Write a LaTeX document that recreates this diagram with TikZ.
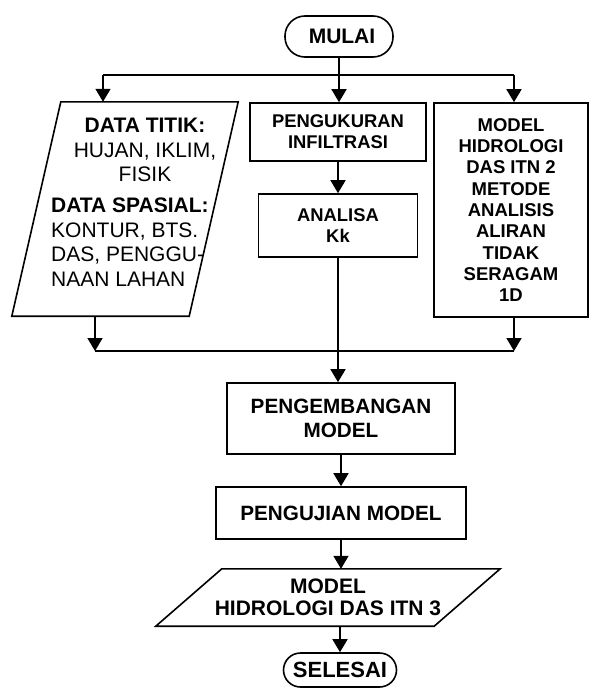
\documentclass[tikz,border=0pt]{standalone}
\usepackage{fontspec}
\setmainfont{Liberation Sans}
\usetikzlibrary{arrows.meta,calc}
\begin{document}
\begin{tikzpicture}[x=1pt,y=-1pt,
  box/.style={draw, line width=1.6pt, inner sep=0pt, align=center},
  ln/.style={line width=1.6pt},
  ar/.style={line width=1.6pt, -{Triangle[length=13pt,width=15pt]}},
  fa/.style={font=\fontsize{18.4}{21}\selectfont\bfseries},
  fb/.style={font=\fontsize{20.7}{24}\selectfont\bfseries},
  fr/.style={font=\fontsize{18.5}{21.3}\selectfont\bfseries},
  fl/.style={font=\fontsize{21}{24.5}\selectfont},
]
\useasboundingbox (0,0) rectangle (590,688);

% terminals and boxes
\node[box, rounded corners=20pt, minimum width=108pt, minimum height=41pt,
      font=\fontsize{21}{24}\selectfont\bfseries] (mulai) at (339,36.5) {\hspace*{6pt}MULAI};
\node[box, fa, minimum width=176pt, minimum height=58pt] (peng) at (338,132) {PENGUKURAN\\INFILTRASI};
\node[box, fa, minimum width=159pt, minimum height=63pt] (analisa) at (338,225.5) {ANALISA\\Kk};
\node[box, fr, minimum width=154pt, minimum height=214pt] (model) at (511,210)
  {MODEL\\HIDROLOGI\\DAS ITN 2\\METODE\\ANALISIS\\ALIRAN\\TIDAK\\SERAGAM\\1D};

% left data parallelogram
\node[inner sep=0pt, minimum width=226pt, minimum height=214pt] (dat) at (125,209) {};
\draw[ln] ($(dat.north west)+(49,0)$) -- (dat.north east) -- ($(dat.south east)+(-49,0)$) -- (dat.south west) -- cycle;
\node[fl, anchor=north, inner sep=0pt, align=center] (dtitik) at (145,118)
  {\textbf{DATA TITIK:}\\HUJAN, IKLIM,\\FISIK};
\node[fl, anchor=north west, inner sep=0pt, align=left] (dspas) at (51,198)
  {\textbf{DATA SPASIAL:}\\KONTUR, BTS.\\DAS, PENGGU-\\NAAN LAHAN};

\node[box, fb, minimum width=228pt, minimum height=71pt] (pengem) at (341,418.5) {PENGEMBANGAN\\MODEL};
\node[box, fb, minimum width=250pt, minimum height=52pt] (uji) at (341,513) {PENGUJIAN MODEL};

% output parallelogram
\node[inner sep=0pt, minimum width=344pt, minimum height=57pt, align=center,
      font=\fontsize{21}{21.5}\selectfont\bfseries] (out) at (328,597.5) {MODEL\\HIDROLOGI DAS ITN 3};
\draw[ln] ($(out.north west)+(66,0)$) -- (out.north east) -- ($(out.south east)+(-66,0)$) -- (out.south west) -- cycle;

\node[box, rounded corners=17pt, minimum width=113pt, minimum height=34pt,
      font=\fontsize{22}{24}\selectfont\bfseries] (selesai) at (340,670) {SELESAI};

% connectors
\coordinate (bl) at (103,75);
\coordinate (br) at (514,75);
\draw[ln] (bl) -- (br);
\draw[ar] (mulai.south) -- (mulai.south |- peng.north);
\draw[ar] (bl) -- (bl |- dat.north);
\draw[ar] (br) -- (br |- model.north);
\draw[ar] (peng.south) -- (peng.south |- analisa.north);

\coordinate (ml) at (95,351);
\coordinate (mr) at (514,351);
\draw[ln] (ml) -- (mr);
\draw[ar] (ml |- dat.south) -- (ml);
\draw[ar] (mr |- model.south) -- (mr);
\draw[ar] (analisa.south) -- (analisa.south |- pengem.north);
\draw[ar] (pengem.south) -- (pengem.south |- uji.north);
\draw[ar] (uji.south) -- (uji.south |- out.north);
\draw[ar] (selesai.north |- out.south) -- (selesai.north);
\end{tikzpicture}
\end{document}
